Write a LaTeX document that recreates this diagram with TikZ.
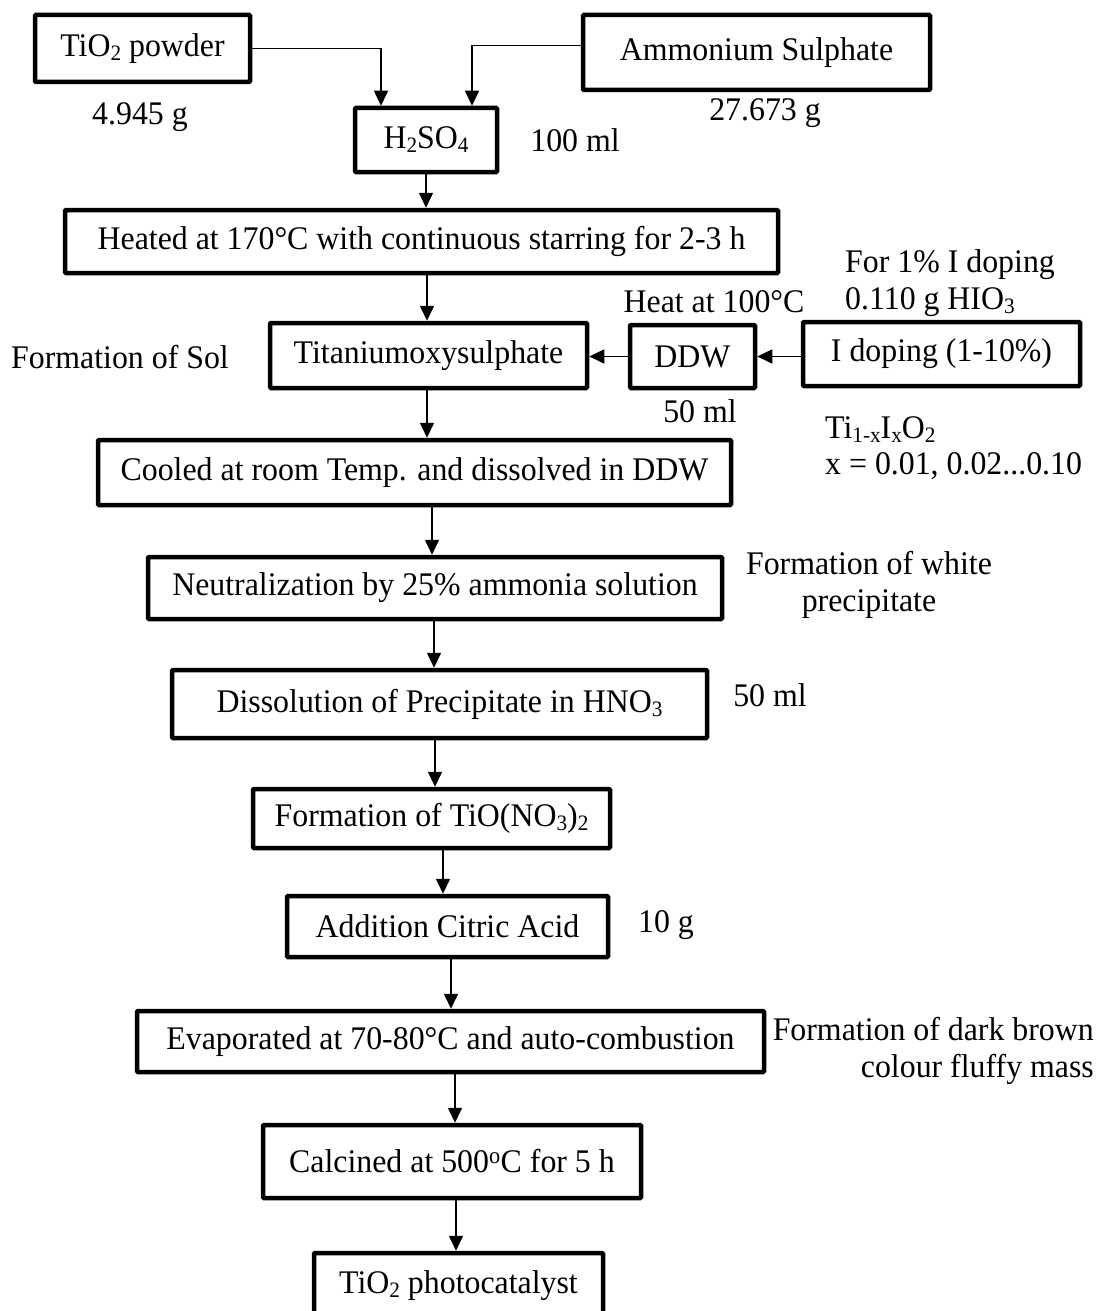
\documentclass[tikz,border=0pt]{standalone}
\usepackage{fontspec}
\setmainfont[FakeStretch=0.965]{Liberation Serif}
\usetikzlibrary{arrows.meta}
\newcommand{\sbs}[1]{\raisebox{-0.12em}{\fontsize{22}{22}\selectfont #1}}
\begin{document}
\begin{tikzpicture}[x=1pt,y=-1pt, font=\fontsize{33}{37}\selectfont,
 boxn/.style={draw, line width=4.5pt, inner sep=0pt, rounded corners=1pt, align=center},
 arr/.style={-{Triangle[length=15pt,width=14pt]}, line width=1.6pt},
 lbl/.style={inner sep=0pt, align=center}]
\useasboundingbox (0,0) rectangle (1097,1311);
% boxes
\node[boxn, minimum width=215, minimum height=67] (tio2) at (142.5,48.5) {TiO\sbs{2} powder};
\node[boxn, minimum width=347, minimum height=75] (amm) at (756.5,52.5) {Ammonium Sulphate};
\node[boxn, minimum width=142, minimum height=64] (h2so4) at (426,140) {H\sbs{2}SO\sbs{4}};
\node[boxn, minimum width=713, minimum height=63] (heated) at (421.5,241.5) {Heated at 170°C with continuous starring for 2-3 h};
\node[boxn, minimum width=317, minimum height=65] (titan) at (428.5,355.5) {Titaniumoxysulphate};
\node[boxn, minimum width=125, minimum height=63] (ddw) at (692.5,356.5) {DDW};
\node[boxn, minimum width=277, minimum height=64] (idop) at (941.5,354) {I doping (1-10\%)};
\node[boxn, minimum width=633, minimum height=65] (cooled) at (414.5,472.5) {Cooled at room Temp. and dissolved in DDW};
\node[boxn, minimum width=574, minimum height=62] (neut) at (435,588) {Neutralization by 25\% ammonia solution};
\node[boxn, minimum width=535, minimum height=68] (diss) at (439.5,704) {Dissolution of Precipitate in HNO\sbs{3}};
\node[boxn, minimum width=357, minimum height=59] (tino) at (431.5,818.5) {Formation of TiO(NO\sbs{3})\sbs{2}};
\node[boxn, minimum width=321, minimum height=61] (citric) at (447.5,926.5) {Addition Citric Acid};
\node[boxn, minimum width=627, minimum height=61] (evap) at (450.5,1041.5) {Evaporated at 70-80°C and auto-combustion};
\node[boxn, minimum width=378, minimum height=73] (calc) at (452,1161.5) {Calcined at 500\textsuperscript{o}C for 5 h};
\node[boxn, minimum width=289, minimum height=66] (photo) at (458.5,1286) {TiO\sbs{2} photocatalyst};
% labels
\node[lbl] (l1) at (140,117) {4.945 g};
\node[lbl] (l2) at (765,113) {27.673 g};
\node[lbl] (l3) at (575,140) {100 ml};
\node[lbl] (l4) at (714,302) {Heat at 100°C};
\node[lbl, anchor=west] (l5) at (845,265) {For 1\% I doping};
\node[lbl, anchor=west] (l6) at (845,302) {0.110 g HIO\sbs{3}};
\node[lbl] (l7) at (120,357) {Formation of Sol};
\node[lbl] (l8) at (700,411) {50 ml};
\node[lbl, anchor=west] (l9) at (825,430) {Ti\sbs{1-x}I\sbs{x}O\sbs{2}};
\node[lbl, anchor=west] (l10) at (825,466) {x = 0.01, 0.02...0.10};
\node[lbl] (l11) at (869,585) {Formation of white\\precipitate};
\node[lbl] (l12) at (770,695) {50 ml};
\node[lbl] (l13) at (666,925) {10 g};
\node[lbl, align=right, anchor=east] (l14) at (1094,1051) {Formation of dark brown\\colour fluffy mass};
% connectors
\coordinate (ca) at (381,0);
\coordinate (cb) at (472,0);
\draw[arr] (tio2.east) -| (ca |- h2so4.north);
\draw[arr] ([yshift=7pt]amm.west) -| (cb |- h2so4.north);
\coordinate (c1) at (426,0);
\coordinate (c2) at (427,0);
\coordinate (c3) at (432,0);
\coordinate (c4) at (434,0);
\coordinate (c5) at (435,0);
\coordinate (c6) at (443,0);
\coordinate (c7) at (451,0);
\coordinate (c8) at (455,0);
\coordinate (c9) at (456,0);
\draw[arr] (c1 |- h2so4.south) -- (c1 |- heated.north);
\draw[arr] (c2 |- heated.south) -- (c2 |- titan.north);
\draw[arr] (c2 |- titan.south) -- (c2 |- cooled.north);
\draw[arr] (c3 |- cooled.south) -- (c3 |- neut.north);
\draw[arr] (c4 |- neut.south) -- (c4 |- diss.north);
\draw[arr] (c5 |- diss.south) -- (c5 |- tino.north);
\draw[arr] (c6 |- tino.south) -- (c6 |- citric.north);
\draw[arr] (c7 |- citric.south) -- (c7 |- evap.north);
\draw[arr] (c8 |- evap.south) -- (c8 |- calc.north);
\draw[arr] (c9 |- calc.south) -- (c9 |- photo.north);
\draw[arr] (idop.west |- ddw.east) -- (ddw.east);
\draw[arr] (ddw.west) -- (titan.east |- ddw.west);
\end{tikzpicture}
\end{document}
